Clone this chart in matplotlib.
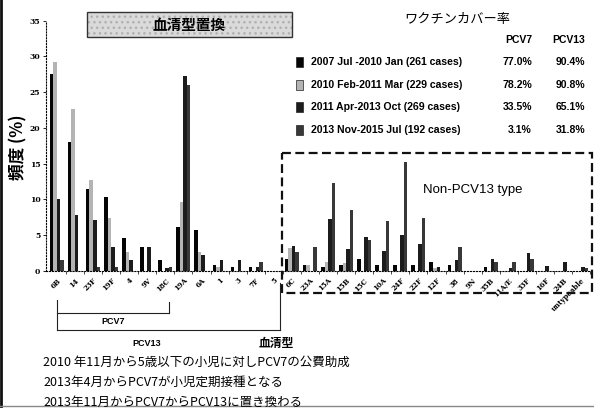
import matplotlib
matplotlib.use("Agg")
import matplotlib.pyplot as plt
from matplotlib.patches import Rectangle
import numpy as np

# serotypes on the x axis
serotypes = ["6B", "14", "23F", "19F", "4", "9V", "18C", "19A", "6A", "1", "3", "7F", "5",
             "6C", "23A", "15A", "15B", "15C", "10A", "24F", "22F", "12F", "38", "9N", "35B",
             "11A/E", "33F", "16F", "24B", "untypeable"]

# frequency (%) per period
p2007_2010 = [27.5, 18.0, 11.5, 10.3, 4.6, 3.4, 1.6, 6.2, 5.8, 0.85, 0.5, 0.5, 0.0,
              1.7, 0.9, 0.6, 0.9, 1.7, 0.9, 0.9, 0.9, 1.3, 0.85, 0.0, 0.6,
              0.0, 0.0, 0.0, 0.0, 0.0]
p2010_2011 = [29.2, 22.7, 12.7, 7.4, 2.7, 0.0, 0.0, 9.7, 2.7, 0.5, 0.0, 0.0, 0.0,
              3.2, 0.8, 1.3, 1.1, 0.0, 0.0, 0.0, 0.0, 0.4, 0.0, 0.0, 0.0,
              0.0, 0.0, 0.0, 0.0, 0.0]
p2011_2013 = [10.0, 7.9, 7.1, 3.3, 1.5, 3.4, 0.4, 27.2, 2.3, 1.6, 1.55, 0.5, 0.0,
              3.5, 0.0, 7.3, 3.1, 4.7, 2.8, 5.0, 3.8, 0.6, 1.6, 0.0, 1.7,
              0.4, 2.5, 0.7, 1.3, 0.5]
p2013_2015 = [1.6, 0.0, 0.5, 0.5, 0.0, 0.0, 0.6, 26.0, 0.0, 0.0, 0.0, 1.2, 0.0,
              2.7, 3.3, 12.3, 8.5, 4.3, 7.0, 15.3, 7.4, 0.0, 3.3, 0.0, 1.2,
              1.3, 1.7, 0.0, 0.0, 0.4]

period_labels = ["2007 Jul -2010 Jan (261 cases)", "2010 Feb-2011 Mar (229 cases)",
                 "2011 Apr-2013 Oct (269 cases)", "2013 Nov-2015 Jul (192 cases)"]
cover_pcv7 = ["77.0%", "78.2%", "33.5%", "3.1%"]
cover_pcv13 = ["90.4%", "90.8%", "65.1%", "31.8%"]

notes = ["2010 年11月から5歳以下の小児に対しPCV7の公費助成",
         "2013年4月からPCV7が小児定期接種となる",
         "2013年11月からPCV7からPCV13に置き換わる"]

colors = ["#050505", "#b4b4b4", "#1c1c1c", "#383838"]
series = [p2007_2010, p2010_2011, p2011_2013, p2013_2015]

W, H = 594, 408
fig = plt.figure(figsize=(W / 100, H / 100), dpi=100)
ax = fig.add_axes([46 / W, 1 - 271 / H, (592 - 46) / W, (271 - 20.7) / H])

x = np.arange(len(serotypes))
w = 0.195
for k, vals in enumerate(series):
    ax.bar(x + (k - 1.5) * w, vals, width=w, color=colors[k], linewidth=0)

ax.set_xlim(-0.6, 29.6)
ax.set_ylim(0, 35)
ax.set_yticks(range(0, 36, 5))
ax.set_yticklabels([str(v) for v in range(0, 36, 5)], family="DejaVu Serif",
                   fontsize=5.5, fontweight="bold")
ax.set_xticks(x)
ax.set_xticklabels(serotypes, rotation=45, ha="right", va="top", rotation_mode="anchor",
                   family="DejaVu Serif", fontsize=5, fontweight="bold")
ax.set_xticks(x + 0.5, minor=True)
ax.tick_params(axis="x", which="major", length=0, pad=4)
ax.tick_params(axis="x", which="minor", length=2, width=0.5)
ax.tick_params(axis="y", length=2, width=0.6, pad=2)
for s in ["top", "right"]:
    ax.spines[s].set_visible(False)
ax.spines["left"].set_linestyle(":")
ax.spines["bottom"].set_linestyle(":")
ax.spines["left"].set_linewidth(0.8)
ax.spines["bottom"].set_linewidth(0.8)
ax.patch.set_alpha(0)

# overlay in pixel coordinates for annotations
ov = fig.add_axes([0, 0, 1, 1])
ov.set_xlim(0, W)
ov.set_ylim(H, 0)
ov.axis("off")
ov.patch.set_alpha(0)

jp = ["Noto Sans CJK JP", "DejaVu Sans"]
sans = ["Liberation Sans", "DejaVu Sans"]

# title box (speckled grey)
ov.add_patch(Rectangle((87, 12), 205, 25, facecolor="#dadada", edgecolor="#b0b0b0",
                       linewidth=0, hatch="...", zorder=3))
ov.add_patch(Rectangle((87, 12), 205, 25, fill=False, edgecolor="#333333",
                       linewidth=1, zorder=3))
ov.text(189, 24.5, "血清型置換", family=jp, fontsize=10.5, fontweight="bold",
        ha="center", va="center", zorder=4)

# legend / vaccine coverage
ov.text(457, 20, "ワクチンカバー率", family=jp, fontsize=9.5, ha="center", va="center")
ov.text(532, 40, "PCV7", family=sans, fontsize=7.5, fontweight="bold", ha="right", va="center")
ov.text(585, 40, "PCV13", family=sans, fontsize=7.5, fontweight="bold", ha="right", va="center")
rows_y = [62, 85, 107, 130]
for k in range(4):
    y = rows_y[k]
    ov.add_patch(Rectangle((296, y - 5), 7, 10, facecolor=colors[k], edgecolor="#222222",
                           linewidth=0.5))
    ov.text(311, y, period_labels[k], family=sans, fontsize=7.6, fontweight="bold",
            ha="left", va="center")
    ov.text(532, y, cover_pcv7[k], family=sans, fontsize=7.5, fontweight="bold",
            ha="right", va="center")
    ov.text(585, y, cover_pcv13[k], family=sans, fontsize=7.5, fontweight="bold",
            ha="right", va="center")

# non-PCV13 dashed box
ov.add_patch(Rectangle((282, 153), 310, 140, fill=False, edgecolor="#111111",
                       linewidth=1.6, linestyle=(0, (4, 2))))
ov.text(473, 190, "Non-PCV13 type", family=sans, fontsize=9.5, ha="center", va="center")

# y label
ov.text(18, 147, "頻度 (%)", family=jp, fontsize=12, fontweight="bold", rotation=90,
        ha="center", va="center")

# PCV7 / PCV13 brackets
ov.plot([57, 57], [300, 330], color="#222222", lw=0.8)
ov.plot([57, 169], [313, 313], color="#222222", lw=0.8)
ov.plot([169, 169], [302, 313], color="#222222", lw=0.8)
ov.plot([57, 280], [330, 330], color="#222222", lw=0.8)
ov.plot([280, 280], [283, 330], color="#222222", lw=0.8)
ov.text(113, 322, "PCV7", family=sans, fontsize=6.5, fontweight="bold", ha="center", va="center")
ov.text(147, 343, "PCV13", family=sans, fontsize=6.5, fontweight="bold", ha="center", va="center")
ov.text(276, 343, "血清型", family=jp, fontsize=8.5, fontweight="bold", ha="center", va="center")

# notes at the bottom
for i, line in enumerate(notes):
    ov.text(43, 362 + i * 20, line, family=jp, fontsize=9, ha="left", va="center")

# scan frame edges
ov.plot([1, 1], [0, H], color="#111111", lw=2)
ov.plot([0, W], [406, 406], color="#888888", lw=1)

fig.savefig("out.png", dpi=100)
